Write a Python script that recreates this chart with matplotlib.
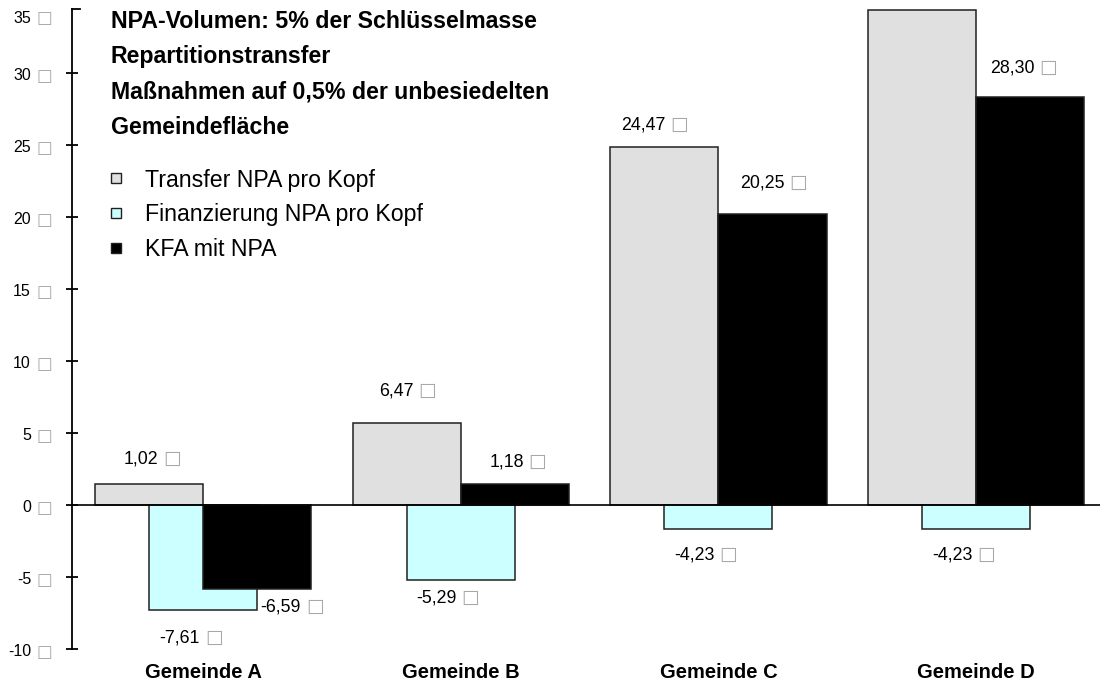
import numpy as np
import matplotlib
matplotlib.use('Agg')
import matplotlib.pyplot as plt
import matplotlib.transforms as mtransforms
from matplotlib.lines import Line2D

plt.rcParams['font.family'] = ['Liberation Sans', 'DejaVu Sans']

# data
gemeinden = ['Gemeinde A', 'Gemeinde B', 'Gemeinde C', 'Gemeinde D']
series = ['Transfer NPA pro Kopf', 'Finanzierung NPA pro Kopf', 'KFA mit NPA']
transfer = [1.45, 5.7, 24.85, 34.4]
finanz = [-7.3, -5.2, -1.65, -1.65]
kfa = [-5.85, 1.45, 20.2, 28.35]
# printed labels (do not match bar heights in the original)
transfer_lbl = ['1,02', '6,47', '24,47', None]
finanz_lbl = ['-7,61', '-5,29', '-4,23', '-4,23']
kfa_lbl = ['-6,59', '1,18', '20,25', '28,30']
yticks = [-10, -5, 0, 5, 10, 15, 20, 25, 30]
title_lines = ['NPA-Volumen: 5% der Schlüsselmasse', 'Repartitionstransfer',
               'Maßnahmen auf 0,5% der unbesiedelten', 'Gemeindefläche']

colors = ['#e0e0e0', '#ccffff', '#000000']
BOX = '\u25a1'

fig = plt.figure(figsize=(11.01, 6.93), dpi=100)
W, H = 1101, 693
ax = fig.add_axes([72 / W, 1 - 649 / H, (1100 - 72) / W, (649 - 9) / H])

x = np.arange(len(gemeinden))
w = 0.419
off = w / 2
ax.bar(x - off, transfer, w, color=colors[0], edgecolor='#202020', linewidth=1.1, zorder=2)
ax.bar(x, finanz, w, color=colors[1], edgecolor='#202020', linewidth=1.1, zorder=3)
ax.bar(x + off, kfa, w, color=colors[2], edgecolor='#202020', linewidth=1.1, zorder=4)

ax.set_xlim(-0.508, 3.48)
ax.set_ylim(-10, 34.44)
ax.axhline(0, color='black', lw=1.2, zorder=5)

for s in ['top', 'right', 'bottom']:
    ax.spines[s].set_visible(False)
ax.spines['left'].set_linewidth(1.3)
ax.set_xticks([])
ax.set_yticks(yticks)
ax.set_yticklabels([])
ax.tick_params(axis='y', direction='inout', length=8, width=1.3)
# small cap at the top of the axis
ax.plot([0, 0.008], [1, 1], transform=ax.transAxes, color='black', lw=1.3, clip_on=False)


def euro(xy, dxy, s, transform, size=12.8, bsize=13.5):
    ax.annotate(s, xy=xy, xycoords=transform, xytext=(dxy[0] + 9, dxy[1]),
                textcoords='offset pixels', ha='right', va='center',
                fontsize=size, color='black', zorder=6, annotation_clip=False)
    ax.annotate(BOX, xy=xy, xycoords=transform, xytext=(dxy[0] + 14, dxy[1] - 5),
                textcoords='offset pixels', ha='left', va='baseline',
                fontsize=bsize, color='#a8a8a8', family='DejaVu Sans',
                zorder=6, annotation_clip=False)


# y tick labels with box glyph
trans = mtransforms.blended_transform_factory(fig.transFigure, ax.transData)
for t in yticks + [34.0]:
    lab = str(int(round(t))) if t != 34.0 else '35'
    ax.annotate(lab, xy=(31 / W, t), xycoords=trans, xytext=(0, -3),
                textcoords='offset pixels', ha='right', va='center', fontsize=11.5,
                annotation_clip=False)
    ax.annotate(BOX, xy=(31 / W, t), xycoords=trans, xytext=(5, -8),
                textcoords='offset pixels', ha='left', va='baseline', fontsize=12,
                color='#a8a8a8', family='DejaVu Sans', annotation_clip=False)

# value labels, offsets in pixels from the bar end
t_off = [(0, 25), (-2, 32), (-8, 22), None]
f_off = [(-12, -28), (-13, -18), (-13, -26), (-13, -26)]
k_off = [(35, -18), (0, 22), (3, 31), (-5, 29)]
for i in range(len(gemeinden)):
    if transfer_lbl[i]:
        euro((x[i] - off, transfer[i]), t_off[i], transfer_lbl[i], 'data')
    euro((x[i], finanz[i]), f_off[i], finanz_lbl[i], 'data')
    euro((x[i] + off, kfa[i]), k_off[i], kfa_lbl[i], 'data')

# category labels
for i, g in enumerate(gemeinden):
    ax.annotate(g, xy=(x[i], 0), xycoords=('data', 'figure fraction'),
                xytext=(0, (H - 672)), textcoords='offset pixels',
                ha='center', va='center', fontsize=14.5, fontweight='bold',
                annotation_clip=False)

# title block
for j, line in enumerate(title_lines):
    fig.text(111 / W, 1 - (22 + 35 * j) / H, line, ha='left', va='center',
             fontsize=16.7, fontweight='bold')

handles = [Line2D([], [], linestyle='none', marker='s', markersize=7.3,
                  markerfacecolor=c, markeredgecolor='#202020', markeredgewidth=1.0)
           for c in colors]
fig.legend(handles, series, loc='upper left', bbox_to_anchor=(97 / W, 1 - 157 / H),
           frameon=False, fontsize=16.7, handlelength=0.6, handleheight=0.7,
           handletextpad=0.95, labelspacing=0.5, borderpad=0)

fig.savefig('out.png', dpi=100)
